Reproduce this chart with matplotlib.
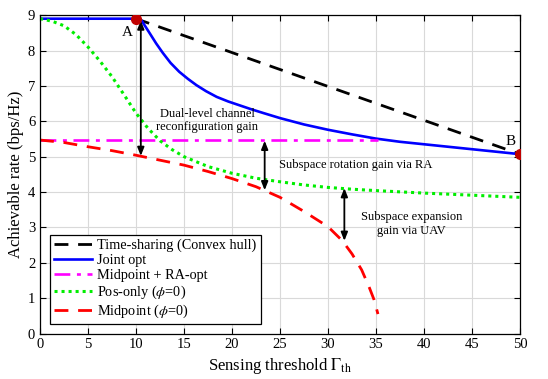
import matplotlib
matplotlib.use("Agg")
import matplotlib.pyplot as plt

plt.rcParams['font.family'] = ['Liberation Serif', 'DejaVu Serif']
plt.rcParams['mathtext.fontset'] = 'stix'

# ---- data ----
ts_x = [10, 50]
ts_y = [8.9, 5.07]

joint_x = [0, 5, 10, 10.3, 10.6, 11.4, 12.1, 12.8, 13.6, 14.5, 15.4, 16.3, 17.3, 18.4, 19.6, 20.8, 22.0, 23.3,
           25, 27.5, 30, 32.5, 35, 37.5, 40, 42.5, 45, 47.5, 50]
joint_y = [8.9, 8.9, 8.9, 8.9, 8.84, 8.5, 8.2, 7.93, 7.65, 7.4, 7.2, 7.02, 6.85, 6.69, 6.56, 6.45, 6.34, 6.23,
           6.09, 5.91, 5.76, 5.63, 5.51, 5.42, 5.35, 5.28, 5.21, 5.14, 5.07]

mid_ra_x = [0, 35.2]
mid_ra_y = [5.47, 5.47]

pos_x = [0, 1.25, 2.5, 3.75, 5, 6.25, 7.5, 8.75, 10, 11.25, 12.5, 13.75, 15, 17.5, 20, 22.5, 25, 27.5, 30, 32.5, 35, 40, 45, 50]
pos_y = [8.9, 8.83, 8.7, 8.45, 8.1, 7.7, 7.26, 6.75, 6.23, 5.8, 5.45, 5.2, 5.0, 4.72, 4.53, 4.39, 4.29, 4.2, 4.13, 4.08, 4.04, 3.97, 3.91, 3.85]

mid_x = [0, 2.5, 5, 7.5, 10, 12.5, 15, 17.5, 20, 22.5, 25, 27.5, 30, 31.5, 32.5, 33.5, 34.3, 34.8, 35.2]
mid_y = [5.47, 5.4, 5.28, 5.17, 5.04, 4.9, 4.76, 4.58, 4.38, 4.15, 3.85, 3.45, 3.02, 2.62, 2.25, 1.8, 1.3, 0.95, 0.55]

pt_x = [10, 50]
pt_y = [8.9, 5.07]
pt_labels = ['A', 'B']

xticks = [0, 5, 10, 15, 20, 25, 30, 35, 40, 45, 50]
yticks = [0, 1, 2, 3, 4, 5, 6, 7, 8, 9]

fig = plt.figure(figsize=(5.48, 3.79), dpi=100)
ax = fig.add_axes([0.073, 0.12, 0.876, 0.84])

ax.plot(ts_x, ts_y, color='black', lw=2.0, ls=(0, (5, 3.5)), label='Time-sharing (Convex hull)')
ax.plot(joint_x, joint_y, color='#0000ff', lw=1.9, ls='-', label='Joint opt')
ax.plot(mid_ra_x, mid_ra_y, color='#ff00ff', lw=1.9, ls=(0, (6, 2.5, 1.5, 2.5)), label='Midpoint + RA-opt')
ax.plot(pos_x, pos_y, color='#00ee00', lw=2.2, ls=(0, (1, 1.3)), label=r'Pos-only ($\phi$=0)')
ax.plot(mid_x, mid_y, color='#ff0000', lw=2.0, ls=(0, (5, 3.5)), label=r'Midpoint ($\phi$=0)')

ax.plot(pt_x, pt_y, 'o', color='#c00000', ms=7, zorder=5)
ax.text(9.05, 8.5, pt_labels[0], fontsize=11, ha='center', va='center')
ax.text(49.0, 5.42, pt_labels[1], fontsize=11, ha='center', va='center')

arrow_kw = dict(arrowstyle='<|-|>,head_length=0.5,head_width=0.2', color='black', lw=1.3, shrinkA=0, shrinkB=0)
ax.annotate('', xy=(10.5, 8.85), xytext=(10.5, 5.02), arrowprops=arrow_kw)
ax.annotate('', xy=(23.4, 5.45), xytext=(23.4, 4.05), arrowprops=arrow_kw)
ax.annotate('', xy=(31.7, 4.11), xytext=(31.7, 2.62), arrowprops=arrow_kw)

ax.text(17.4, 6.03, 'Dual-level channel\nreconfiguration gain', fontsize=9, ha='center', va='center', linespacing=1.1)
ax.text(24.9, 4.76, 'Subspace rotation gain via RA', fontsize=9, ha='left', va='center')
ax.text(38.7, 3.09, 'Subspace expansion\ngain via UAV', fontsize=9, ha='center', va='center', linespacing=1.2)

ax.set_xlim(0, 50)
ax.set_ylim(0, 9)
ax.set_xticks(xticks)
ax.set_yticks(yticks)
ax.tick_params(direction='in', top=True, right=True, labelsize=10.5, length=4, width=0.8)
ax.grid(True, color='#d9d9d9', lw=0.8)
ax.set_axisbelow(True)
for s in ax.spines.values():
    s.set_linewidth(0.9)

ax.set_xlabel(r'Sensing threshold $\Gamma_{\rm th}$', fontsize=12, labelpad=3)
ax.set_ylabel('Achievable rate (bps/Hz)', fontsize=12, labelpad=3)

leg = ax.legend(loc='lower left', bbox_to_anchor=(0.021, 0.029), borderaxespad=0,
                fontsize=10.3, frameon=True, fancybox=False, edgecolor='black',
                handlelength=2.6, handletextpad=0.4, labelspacing=0.12, borderpad=0.3)
leg.get_frame().set_linewidth(0.9)
leg.get_frame().set_alpha(1)

fig.savefig('out.png', dpi=100)
